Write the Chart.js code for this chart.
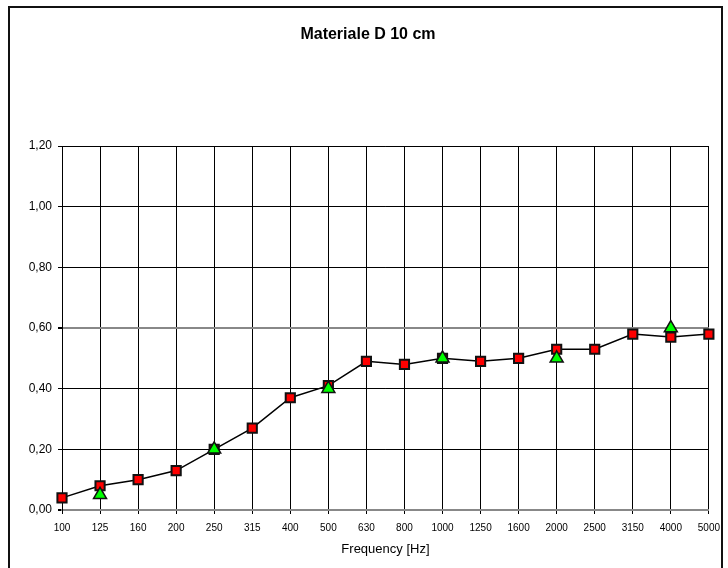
<!DOCTYPE html>
<html>
<head>
<meta charset="utf-8">
<title>Materiale D 10 cm</title>
<script src="https://cdn.jsdelivr.net/npm/chart.js@4.4.1/dist/chart.umd.min.js"></script>
<style>
    html, body { margin: 0; padding: 0; background: #fff; }
    #wrap { position: relative; width: 728px; height: 568px; overflow: hidden; }
    #frame {
        position: absolute; left: 8px; top: 6px; width: 715px; height: 600px;
        border: 2px solid #111; box-sizing: border-box;
    }
    canvas { position: absolute; left: 0; top: 0; }
</style>
</head>
<body>
<div id="wrap">
    <div id="frame"></div>
    <canvas id="chart" width="728" height="568"></canvas>
</div>
<script>

const frequencies = ['100', '125', '160', '200', '250', '315', '400', '500', '630', '800',
    '1000', '1250', '1600', '2000', '2500', '3150', '4000', '5000'];

// measured curve (red squares)
const measured = [0.04, 0.08, 0.10, 0.13, 0.20, 0.27, 0.37, 0.41, 0.49, 0.48,
    0.50, 0.49, 0.50, 0.53, 0.53, 0.58, 0.57, 0.58];

// octave values (green triangles), only some bands
const octave = [null, 0.05, null, null, 0.20, null, null, 0.40, null, null,
    0.50, null, null, 0.50, null, null, 0.60, null];

const yTicks = [0, 0.2, 0.4, 0.6, 0.8, 1.0, 1.2];

const fontFamily = 'Arial, "Liberation Sans", sans-serif';

// grey (anti-aliased look) for the 0,60 line and the base line
function isGreyLine(c) {
    return c.tick && (c.tick.value === 0.6 || c.tick.value === 0);
}

const ctx = document.getElementById('chart').getContext('2d');
const chart = new Chart(ctx, {
    type: 'line',
    data: {
        labels: frequencies,
        datasets: [{
            label: 'Measured',
            data: measured,
            order: 2,
            borderColor: '#000',
            borderWidth: 1.5,
            pointStyle: 'rect',
            pointRadius: 6.5,
            pointBackgroundColor: '#FF0000',
            pointBorderColor: '#111',
            pointBorderWidth: 2,
            tension: 0
        }, {
            label: 'Octave',
            data: octave,
            order: 1,
            showLine: false,
            pointStyle: 'triangle',
            pointRadius: 7.5,
            pointBackgroundColor: '#00FF00',
            pointBorderColor: '#111',
            pointBorderWidth: 1.5
        }]
    },
    options: {
        responsive: false,
        animation: false,
        layout: {
            padding: { left: 8, right: 0, top: 0, bottom: 0 }
        },
        plugins: {
            legend: { display: false },
            tooltip: { enabled: false },
            title: {
                display: true,
                text: 'Materiale D 10 cm',
                color: '#000',
                font: { family: fontFamily, size: 16, weight: 'bold' },
                padding: { top: 25, bottom: 101.8 }
            }
        },
        scales: {
            x: {
                offset: false,
                grid: {
                    color: '#000',
                    lineWidth: 1,
                    tickLength: 4
                },
                border: { color: '#888', width: 2 },
                ticks: {
                    color: '#000',
                    maxRotation: 0,
                    autoSkip: false,
                    padding: 8,
                    font: { family: fontFamily, size: 10 }
                },
                title: {
                    display: true,
                    text: 'Frequency [Hz]',
                    color: '#000',
                    font: { family: fontFamily, size: 13 },
                    padding: { top: 4, bottom: 11 }
                },
                afterFit: (scale) => { scale.height = 58; }
            },
            y: {
                min: 0,
                max: 1.2,
                afterBuildTicks: (scale) => {
                    scale.ticks = yTicks.map(v => ({ value: v }));
                },
                grid: {
                    color: (c) => isGreyLine(c) ? '#888' : '#000',
                    lineWidth: (c) => isGreyLine(c) ? 2 : 1,
                    tickColor: '#000',
                    tickLength: 4
                },
                border: { color: '#000', width: 1 },
                ticks: {
                    color: '#000',
                    padding: 6,
                    font: { family: fontFamily, size: 12 },
                    callback: (value) => value.toFixed(2).replace('.', ',')
                },
                afterFit: (scale) => { scale.width = 54; }
            },
            // empty axis on the right, only to keep the plot's right edge in place
            yRight: {
                position: 'right',
                display: true,
                grid: { display: false, drawTicks: false },
                border: { display: false },
                ticks: { display: false },
                afterFit: (scale) => { scale.width = 19; }
            }
        }
    }
});
</script>
</body>
</html>
